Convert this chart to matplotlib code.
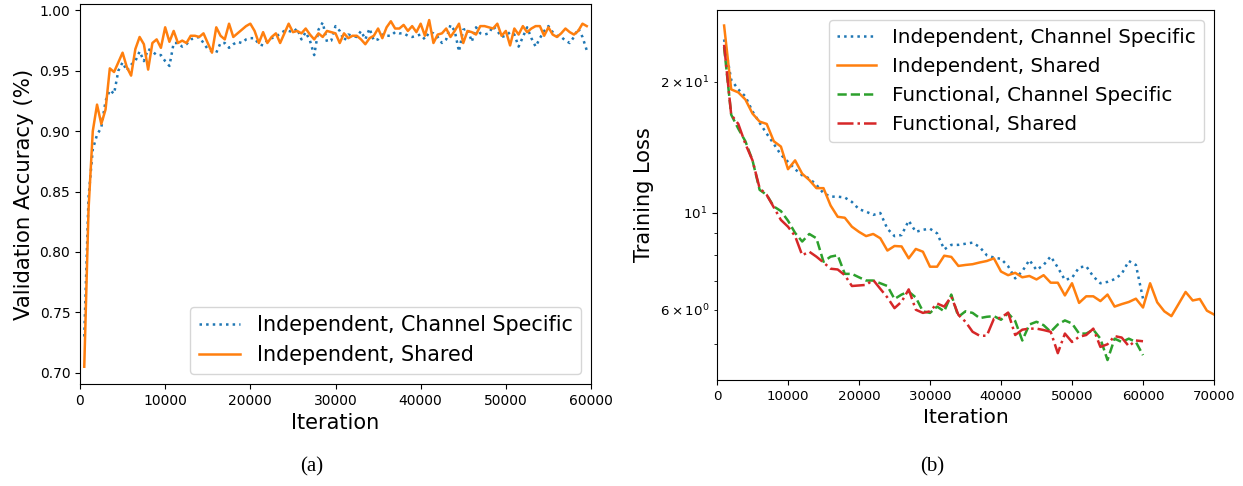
import numpy as np
import matplotlib
matplotlib.use("Agg")
import matplotlib.pyplot as plt

# ---------------- (a) validation accuracy, every 500 iterations ----------------
acc_step = 500
acc_indep_channel = [
    0.730, 0.845, 0.885, 0.897, 0.903, 0.925, 0.934, 0.931, 0.950, 0.957,
    0.950, 0.955, 0.958, 0.966, 0.958, 0.968, 0.966, 0.963, 0.963, 0.958,
    0.954, 0.973, 0.973, 0.970, 0.972, 0.976, 0.977, 0.978, 0.973, 0.968,
    0.966, 0.965, 0.973, 0.973, 0.969, 0.972, 0.974, 0.973, 0.976, 0.977,
    0.977, 0.972, 0.971, 0.975, 0.977, 0.978, 0.981, 0.983, 0.983, 0.982,
    0.985, 0.976, 0.982, 0.975, 0.963, 0.984, 0.990, 0.974, 0.975, 0.987,
    0.983, 0.975, 0.980, 0.979, 0.978, 0.983, 0.976, 0.985, 0.975, 0.976,
    0.980, 0.979, 0.979, 0.982, 0.981, 0.981, 0.979, 0.978, 0.979, 0.980,
    0.976, 0.982, 0.981, 0.978, 0.973, 0.976, 0.988, 0.983, 0.966, 0.984,
    0.985, 0.974, 0.986, 0.981, 0.980, 0.981, 0.987, 0.983, 0.978, 0.979,
    0.982, 0.980, 0.970, 0.978, 0.986, 0.977, 0.970, 0.977, 0.983, 0.987,
    0.982, 0.979, 0.978, 0.975, 0.973, 0.978, 0.985, 0.978, 0.967,
]
acc_indep_shared = [
    0.705, 0.835, 0.900, 0.922, 0.906, 0.918, 0.952, 0.949, 0.957, 0.965,
    0.953, 0.946, 0.968, 0.978, 0.972, 0.951, 0.973, 0.976, 0.969, 0.986,
    0.974, 0.983, 0.973, 0.975, 0.973, 0.979, 0.979, 0.978, 0.981, 0.973,
    0.965, 0.986, 0.979, 0.976, 0.989, 0.978, 0.981, 0.984, 0.987, 0.989,
    0.983, 0.973, 0.982, 0.973, 0.978, 0.981, 0.973, 0.981, 0.989, 0.982,
    0.983, 0.981, 0.985, 0.980, 0.976, 0.981, 0.978, 0.983, 0.982, 0.981,
    0.973, 0.981, 0.977, 0.979, 0.979, 0.976, 0.972, 0.977, 0.979, 0.985,
    0.977, 0.986, 0.991, 0.985, 0.985, 0.988, 0.983, 0.987, 0.982, 0.989,
    0.979, 0.992, 0.973, 0.980, 0.981, 0.985, 0.978, 0.983, 0.989, 0.973,
    0.983, 0.982, 0.980, 0.987, 0.987, 0.986, 0.985, 0.989, 0.979, 0.983,
    0.971, 0.985, 0.980, 0.987, 0.982, 0.985, 0.987, 0.987, 0.979, 0.986,
    0.980, 0.978, 0.981, 0.985, 0.982, 0.980, 0.983, 0.989, 0.987,
]

# ---------------- (b) training loss, every 1000 iterations ----------------
loss_step = 1000
loss_indep_channel = [
    25.0, 20.2, 19.2, 18.5, 17.1, 16.1, 15.2, 14.4, 13.6, 13.1,
    12.6, 12.2, 12.0, 11.6, 11.1, 10.9, 10.9, 10.85, 10.6, 10.2,
    10.07, 9.9, 10.0, 9.2, 8.85, 8.9, 9.6, 9.05, 9.15, 9.2,
    8.98, 8.25, 8.45, 8.45, 8.5, 8.55, 8.35, 8.0, 7.9, 7.85,
    7.55, 7.08, 7.35, 7.8, 7.4, 7.6, 7.95, 7.5, 7.02, 7.1,
    7.5, 7.55, 7.15, 6.9, 6.95, 7.05, 7.25, 7.76, 7.6, 6.36,
]
loss_indep_shared = [
    26.9, 19.2, 18.9, 18.2, 16.9, 16.2, 16.0, 14.6, 14.2, 12.6,
    13.2, 12.3, 11.9, 11.4, 11.4, 10.4, 9.8, 9.75, 9.3, 9.05,
    8.85, 8.95, 8.75, 8.2, 8.4, 8.38, 7.87, 8.27, 8.15, 7.53,
    7.53, 7.98, 7.93, 7.56, 7.6, 7.63, 7.7, 7.76, 7.87, 7.34,
    7.2, 7.29, 7.12, 7.17, 7.04, 7.2, 6.92, 6.92, 6.47, 6.9,
    6.22, 6.44, 6.44, 6.28, 6.5, 6.1, 6.18, 6.25, 6.36, 6.07,
    6.9, 6.24, 5.95, 5.8, 6.18, 6.59, 6.3, 6.35, 5.97, 5.85,
]
loss_func_channel = [
    24.0, 16.8, 15.6, 14.6, 13.2, 11.3, 11.0, 10.35, 10.1, 9.6,
    9.0, 8.6, 8.95, 8.75, 7.73, 7.94, 8.0, 7.25, 7.25, 7.12,
    7.0, 7.0, 6.9, 6.8, 6.35, 6.5, 6.6, 6.4, 5.95, 5.9,
    6.1, 5.95, 6.5, 5.78, 5.95, 5.9, 5.74, 5.78, 5.8, 5.69,
    5.89, 5.65, 5.1, 5.55, 5.63, 5.53, 5.34, 5.55, 5.67, 5.58,
    5.29, 5.29, 5.4, 5.15, 4.6, 5.15, 5.06, 5.15, 5.06, 4.72,
]
loss_func_shared = [
    24.3, 16.8, 16.0, 14.4, 13.2, 11.4, 11.0, 10.3, 9.64, 9.3,
    8.85, 8.0, 8.15, 7.94, 7.7, 7.45, 7.42, 7.2, 6.8, 6.82,
    6.84, 7.02, 6.7, 6.4, 6.05, 6.26, 6.68, 6.0, 5.9, 5.95,
    6.2, 6.1, 6.43, 5.84, 5.63, 5.34, 5.23, 5.23, 5.72, 5.75,
    5.91, 5.25, 5.4, 5.43, 5.43, 5.39, 5.34, 4.77, 5.29, 5.06,
    5.2, 5.25, 5.43, 4.93, 5.0, 5.22, 5.18, 4.95, 5.1, 5.08,
]

labels = ["Independent, Channel Specific", "Independent, Shared",
          "Functional, Channel Specific", "Functional, Shared"]


def iters(values, step):
    return np.arange(1, len(values) + 1) * step


W, H = 1243, 486
fig = plt.figure(figsize=(W / 100, H / 100), dpi=100)

# ---- (a)
ax1 = fig.add_axes([80 / W, 1 - 384 / H, (591 - 80) / W, (384 - 4) / H])
ax1.plot(iters(acc_indep_channel, acc_step), acc_indep_channel, ":",
         color="#1f77b4", lw=1.8, label=labels[0])
ax1.plot(iters(acc_indep_shared, acc_step), acc_indep_shared, "-",
         color="#ff7f0e", lw=1.8, label=labels[1])
ax1.set_xlim(0, 60000)
ax1.set_ylim(0.6907, 1.0053)
ax1.set_xlabel("Iteration", fontsize=15)
ax1.set_ylabel("Validation Accuracy (%)", fontsize=15.3)
ax1.tick_params(labelsize=10)
ax1.legend(loc="lower right", fontsize=14.9)

# ---- (b)
ax2 = fig.add_axes([717 / W, 1 - 380 / H, (1214 - 717) / W, (380 - 10) / H])
ax2.plot(iters(loss_indep_channel, loss_step), loss_indep_channel, ":",
         color="#1f77b4", lw=1.8, label=labels[0])
ax2.plot(iters(loss_indep_shared, loss_step), loss_indep_shared, "-",
         color="#ff7f0e", lw=1.8, label=labels[1])
ax2.plot(iters(loss_func_channel, loss_step), loss_func_channel, "--",
         color="#2ca02c", lw=1.8, label=labels[2])
ax2.plot(iters(loss_func_shared, loss_step), loss_func_shared, "-.",
         color="#d62728", lw=1.8, label=labels[3])
ax2.set_yscale("log")
ax2.set_xlim(0, 70000)
ax2.set_ylim(4.14, 29.2)
ax2.set_xlabel("Iteration", fontsize=14.5)
ax2.set_ylabel("Training Loss", fontsize=15)
ax2.tick_params(which="both", labelsize=9.6)
ax2.legend(loc="upper right", fontsize=14.3)

# captions
fig.text(312 / W, 1 - 467 / H, "(a)", ha="center", va="center",
         fontsize=15, family="Liberation Serif")
fig.text(932 / W, 1 - 467 / H, "(b)", ha="center", va="center",
         fontsize=15, family="Liberation Serif")

fig.savefig("out.png", dpi=100)
